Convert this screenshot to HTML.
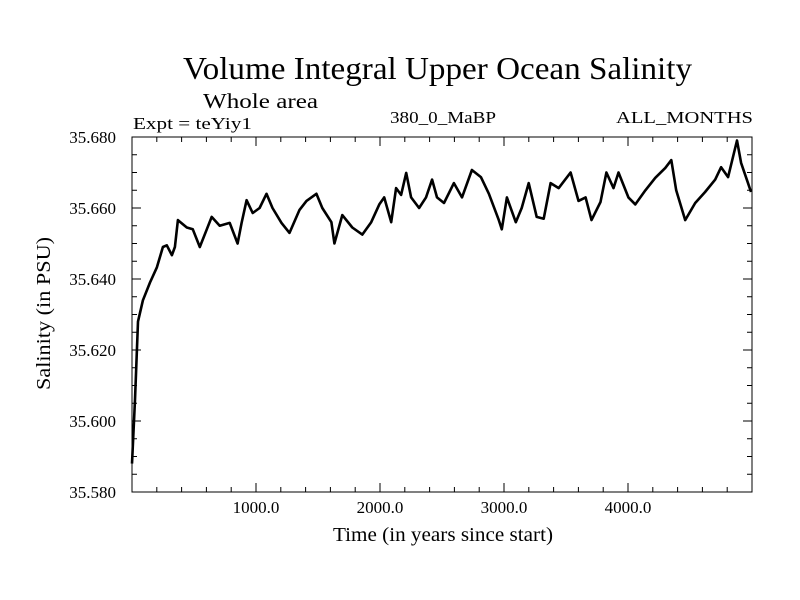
<!DOCTYPE html>
<html><head><meta charset="utf-8"><style>
body{margin:0;background:#fff}
svg{display:block;font-family:"Liberation Serif",serif}
</style></head><body>
<svg width="800" height="600">
<text x="183" y="79" font-size="32" textLength="509" lengthAdjust="spacingAndGlyphs">Volume Integral Upper Ocean Salinity</text>
<text x="203" y="108" font-size="21" textLength="115" lengthAdjust="spacingAndGlyphs">Whole area</text>
<text x="133" y="129" font-size="17" textLength="119" lengthAdjust="spacingAndGlyphs">Expt = teYiy1</text>
<text x="390" y="123" font-size="17" textLength="106" lengthAdjust="spacingAndGlyphs">380_0_MaBP</text>
<text x="616" y="123" font-size="17" textLength="137" lengthAdjust="spacingAndGlyphs">ALL_MONTHS</text>
<text x="333" y="541" font-size="20" textLength="220" lengthAdjust="spacingAndGlyphs">Time (in years since start)</text>
<text transform="translate(50,390) rotate(-90)" font-size="20" textLength="153" lengthAdjust="spacingAndGlyphs">Salinity (in PSU)</text>
<g id="ticks"></g>
<path id="series" fill="none" stroke="#000" stroke-width="2.6" stroke-linejoin="round"/>
<rect x="132" y="137" width="620" height="355" fill="none" stroke="#000" stroke-width="1"/>
</svg>
<script>
const years=[0,24,48,88,145,201,249,281,322,346,370,442,490,547,603,643,707,788,852,884,924,973,1029,1085,1133,1206,1270,1350,1407,1487,1535,1608,1632,1696,1777,1857,1929,1994,2034,2090,2130,2170,2211,2251,2315,2371,2420,2460,2516,2596,2661,2741,2814,2878,2958,2982,3023,3095,3143,3199,3264,3320,3376,3441,3537,3601,3658,3706,3778,3826,3883,3923,4003,4059,4140,4220,4301,4349,4389,4461,4542,4622,4703,4751,4807,4879,4912,4968,4992];
const salinity=[35.588,35.606,35.628,35.634,35.639,35.6433,35.649,35.6495,35.6467,35.649,35.6566,35.6545,35.654,35.649,35.654,35.6575,35.655,35.6558,35.650,35.6558,35.6622,35.6586,35.660,35.664,35.660,35.6558,35.653,35.6594,35.662,35.664,35.660,35.656,35.650,35.658,35.6545,35.6525,35.656,35.661,35.663,35.656,35.6656,35.6637,35.6699,35.663,35.660,35.663,35.668,35.663,35.6614,35.667,35.663,35.6707,35.6687,35.664,35.6566,35.654,35.663,35.656,35.660,35.667,35.6575,35.657,35.667,35.6656,35.670,35.662,35.663,35.6566,35.6617,35.670,35.6656,35.670,35.663,35.661,35.665,35.6685,35.6713,35.6735,35.665,35.6566,35.6614,35.6645,35.668,35.6715,35.6687,35.679,35.6727,35.667,35.6645];
const yTickLabels=["35.580","35.600","35.620","35.640","35.660","35.680"];
const xTickLabels=["1000.0","2000.0","3000.0","4000.0"];
const X0=132,X1=752,Y0=492,Y1=137,XMIN=0,XMAX=5000,YMIN=35.58,YMAX=35.68;
const sx=v=>X0+(v-XMIN)/(XMAX-XMIN)*(X1-X0);
const sy=v=>Y0-(v-YMIN)/(YMAX-YMIN)*(Y0-Y1);
const NS="http://www.w3.org/2000/svg";
const g=document.getElementById('ticks');
function line(x1,y1,x2,y2,name){const l=document.createElementNS(NS,'line');l.setAttribute('x1',x1);l.setAttribute('y1',y1);l.setAttribute('x2',x2);l.setAttribute('y2',y2);l.setAttribute('stroke','#000');


g.appendChild(l);}
function text(x,y,s,anchor,name){const t=document.createElementNS(NS,'text');t.setAttribute('x',x);t.setAttribute('y',y);t.setAttribute('font-size','17');t.setAttribute('text-anchor',anchor);t.textContent=s;


g.appendChild(t);}
for(let v=200;v<XMAX;v+=200){const x=sx(v);const L=(v%1000===0)?9:5;line(x,Y0,x,Y0-L,'x-tick');line(x,Y1,x,Y1+L,'x-tick-top');}
xTickLabels.forEach(s=>{text(sx(parseFloat(s)),513,s,'middle','x-tick-label');});
for(let i=0;i<=20;i++){const v=YMIN+i*0.005;const y=sy(v);const L=(i%4===0)?9:5;line(X0,y,X0+L,y,'y-tick');line(X1,y,X1-L,y,'y-tick-right');}
yTickLabels.forEach(s=>{text(116,sy(parseFloat(s))+6,s,'end','y-tick-label');});
document.getElementById('series').setAttribute('d',years.map((yr,i)=>(i?'L':'M')+sx(yr).toFixed(1)+' '+sy(salinity[i]).toFixed(1)).join(' '));
</script>
</body></html>
